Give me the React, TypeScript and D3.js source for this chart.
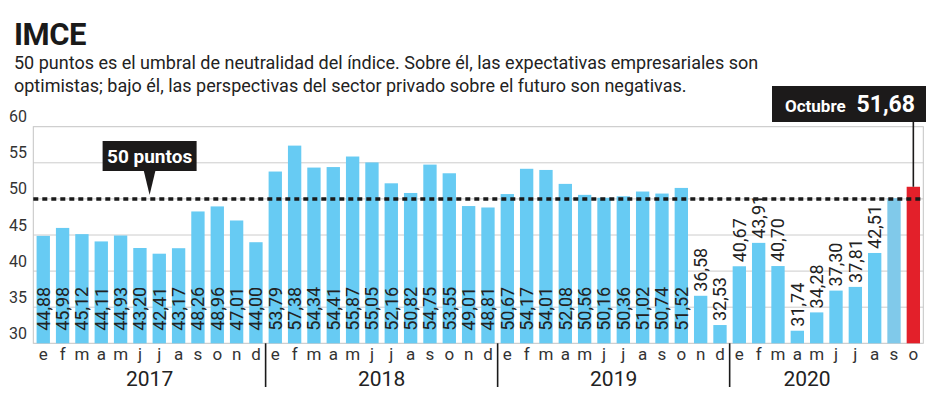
import React from "react";
import * as d3 from "d3";

const years = ["2017", "2018", "2019", "2020"];
const monthLetters = ["e", "f", "m", "a", "m", "j", "j", "a", "s", "o", "n", "d"];
const values2017 = [44.88, 45.98, 45.12, 44.11, 44.93, 43.2, 42.41, 43.17, 48.26, 48.96, 47.01, 44.0];
const values2018 = [53.79, 57.38, 54.34, 54.41, 55.87, 55.05, 52.16, 50.82, 54.75, 53.55, 49.01, 48.81];
const values2019 = [50.67, 54.17, 54.01, 52.08, 50.56, 50.16, 50.36, 51.02, 50.74, 51.52, 36.58, 32.53];
const values2020 = [40.67, 43.91, 40.7, 31.74, 34.28, 37.3, 37.81, 42.51, 50.1, 51.68];
const yTicks = [30, 35, 40, 45, 50, 55, 60];
const threshold = 50;

const W = 939;
const H = 399;
const FONT = "Roboto, 'Open Sans', sans-serif";

type Pt = { key: string; year: string; yi: number; m: string; v: number; i: number };

export default function App() {
  const seriesByYear = [values2017, values2018, values2019, values2020];
  const data: Pt[] = [];
  seriesByYear.forEach((arr, yi) =>
    arr.forEach((v, mi) => {
      data.push({ key: `${years[yi]}-${mi}`, year: years[yi], yi, m: monthLetters[mi], v, i: data.length });
    })
  );
  const n = data.length;
  const lastIdx = n - 1;
  const partialIdx = n - 2; // september 2020, unlabeled
  const outsideFrom = 34; // from nov 2019 labels sit above bars

  const plotL = 33.3, plotR = 923.3, plotT = 126.7, plotB = 343.3;
  const x = d3.scaleBand<number>().domain(d3.range(n)).range([plotL, plotR]).paddingInner(0.31).paddingOuter(0.17);
  const y = d3.scaleLinear().domain([30, 60]).range([plotB, plotT]);
  const bw = x.bandwidth();
  const step = x.step();
  const cx = (i: number) => (x(i) as number) + bw / 2;

  const fmt = (v: number) => v.toFixed(2).replace(".", ",");

  const groups = years.map((yr, yi) => {
    const pts = data.filter((d) => d.yi === yi);
    const first = pts[0].i;
    const lastFull = pts.length === 12 ? pts[pts.length - 1].i : pts[pts.length - 3].i;
    return { yr, first, center: (cx(first) + cx(lastFull)) / 2 };
  });

  const calloutX = (cx(5) + cx(6)) / 2;
  const lastX = cx(lastIdx);

  return (
    <svg width={W} height={H} style={{ position: "absolute", left: 0, top: 0, background: "#fff" }} fontFamily={FONT}>
      <text x={14} y={45} fontSize={31} fontWeight={700} fill="#1a1a1a" letterSpacing={-0.5}>IMCE</text>
      <text x={14} y={69} fontSize={18} fill="#222">
        50 puntos es el umbral de neutralidad del índice. Sobre él, las expectativas empresariales son
      </text>
      <text x={14} y={92} fontSize={18} fill="#222">
        optimistas; bajo él, las perspectivas del sector privado sobre el futuro son negativas.
      </text>

      {yTicks.map((t) => (
        <text key={`yl${t}`} x={9} y={y(t) - 4.5} fontSize={16} fill="#333">{t}</text>
      ))}
      {yTicks.filter((t) => t > 30 && t < 60).map((t) => (
        <line key={`g${t}`} x1={plotL} x2={plotR} y1={y(t)} y2={y(t)} stroke="#cccccc" strokeWidth={1} />
      ))}
      <rect x={plotL} y={plotT} width={plotR - plotL} height={plotB - plotT} fill="none" stroke="#c4c4c4" strokeWidth={1} />

      {data.map((d) => (
        <rect
          key={`b${d.key}`}
          x={x(d.i)}
          y={y(d.v)}
          width={bw}
          height={plotB - y(d.v)}
          fill={d.i === lastIdx ? "#e3202a" : d.i === partialIdx ? "#80c9ea" : "#67cbf3"}
        />
      ))}

      <line x1={plotL} x2={plotR} y1={y(threshold)} y2={y(threshold)} stroke="#1a1a1a" strokeWidth={3.5} strokeDasharray="5,4" />

      {data.filter((d) => d.i < partialIdx).map((d) => {
        const yStart = d.i >= outsideFrom ? y(d.v) - 4 : plotB - 12.5;
        return (
          <text
            key={`l${d.key}`}
            transform={`translate(${cx(d.i)},${yStart}) rotate(-90)`}
            dy="0.36em"
            fontSize={18}
            fill="#222"
          >
            {fmt(d.v)}
          </text>
        );
      })}

      {data.map((d) => (
        <text key={`m${d.key}`} x={cx(d.i)} y={360} textAnchor="middle" fontSize={17} fill="#333">{d.m}</text>
      ))}
      {groups.map((g, gi) => (
        <g key={g.yr}>
          {gi > 0 && (
            <line
              x1={(x(g.first) as number) - (step - bw) / 2}
              x2={(x(g.first) as number) - (step - bw) / 2}
              y1={plotB}
              y2={387}
              stroke="#1a1a1a"
              strokeWidth={1.6}
            />
          )}
          <text x={g.center} y={386} textAnchor="middle" fontSize={21} fill="#222">{g.yr}</text>
        </g>
      ))}

      <rect x={calloutX - 47} y={141} width={94} height={30} fill="#1c1a1a" />
      <path d={`M${calloutX - 6},170 L${calloutX + 6},170 L${calloutX},${y(threshold) - 4} Z`} fill="#1c1a1a" />
      <text x={calloutX} y={163} textAnchor="middle" fontSize={19} fontWeight={700} fill="#fff">50 puntos</text>

      <line x1={lastX} x2={lastX} y1={121} y2={y(data[lastIdx].v)} stroke="#1c1a1a" strokeWidth={1.6} />
      <rect x={772} y={86} width={154} height={36} fill="#1c1a1a" />
      <text x={785} y={112} fontSize={17} fontWeight={700} fill="#fff">Octubre</text>
      <text x={915} y={112} textAnchor="end" fontSize={23} fontWeight={700} fill="#fff">{fmt(data[lastIdx].v)}</text>
    </svg>
  );
}
